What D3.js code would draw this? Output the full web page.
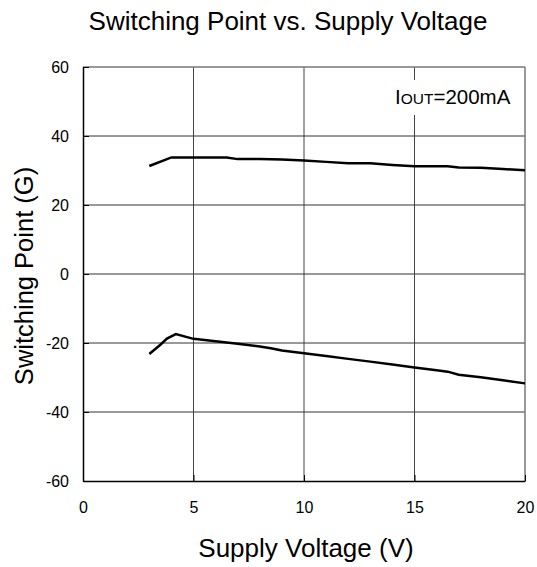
<!DOCTYPE html>
<html>
<head>
<meta charset="utf-8">
<script src="https://cdn.jsdelivr.net/npm/d3@7.9.0/dist/d3.min.js"></script>
<style>
  body { margin: 0; background: #fff; }
  svg { font-family: Arial, "Liberation Sans", sans-serif; }
</style>
</head>
<body>
<div id="viz"></div>
<script>
// Chart data
const upperVolts  = [3, 4, 5, 6, 6.5, 7, 8, 9, 10, 11, 12, 13, 14, 15, 16, 16.5, 17, 18, 19, 20];
const upperPoints = [31.3, 33.8, 33.8, 33.8, 33.8, 33.3, 33.3, 33.2, 32.9, 32.5, 32.1, 32.1, 31.6, 31.2, 31.2, 31.2, 30.9, 30.8, 30.4, 30.1];

const lowerVolts  = [3, 3.5, 3.8, 4.2, 5, 6, 7, 8, 8.5, 9, 10, 11, 12, 13, 14, 15, 16, 16.5, 17, 18, 19, 20];
const lowerPoints = [-23.2, -20.5, -18.7, -17.4, -18.8, -19.5, -20.2, -21.0, -21.5, -22.2, -23.0, -23.8, -24.6, -25.4, -26.2, -27.1, -27.9, -28.3, -29.2, -29.9, -30.8, -31.7];

const xTicks = [0, 5, 10, 15, 20];
const yTicks = [-60, -40, -20, 0, 20, 40, 60];

const W = 537, H = 567;
const margin = {top: 67, right: 12, bottom: 86, left: 83};
const width = W - margin.left - margin.right,
      height = H - margin.top - margin.bottom;

const svg = d3.select('#viz').append('svg')
    .attr('width', W)
    .attr('height', H);

const g = svg.append('g')
    .attr('transform', `translate(${margin.left},${margin.top})`);

const x = d3.scaleLinear().domain([0, 20]).range([0, width]);
const y = d3.scaleLinear().domain([-60, 60]).range([height, 0]);

// grid
g.append('g').selectAll('line')
  .data(xTicks.slice(1, -1))
  .join('line')
  .attr('x1', d => x(d)).attr('x2', d => x(d))
  .attr('y1', 0).attr('y2', height)
  .attr('stroke', '#444').attr('stroke-width', 1);

g.append('g').selectAll('line')
  .data(yTicks.slice(1, -1))
  .join('line')
  .attr('y1', d => y(d)).attr('y2', d => y(d))
  .attr('x1', 0).attr('x2', width)
  .attr('stroke', '#333').attr('stroke-width', 1);

// frame: top and right gray
g.append('line').attr('x1', 0).attr('x2', width).attr('y1', 0).attr('y2', 0)
  .attr('stroke', '#777').attr('stroke-width', 1.5);
g.append('line').attr('x1', width).attr('x2', width).attr('y1', 0).attr('y2', height)
  .attr('stroke', '#777').attr('stroke-width', 1.5);

// axes (plain hyphen for negatives, like the original)
const fmt = d => String(d);
const xAxis = g.append('g')
  .attr('transform', `translate(0,${height})`)
  .call(d3.axisBottom(x).tickValues(xTicks).tickFormat(fmt).tickSizeOuter(0));
const yAxis = g.append('g')
  .call(d3.axisLeft(y).tickValues(yTicks).tickFormat(fmt).tickSizeOuter(0));

[xAxis, yAxis].forEach(a => {
  a.select('.domain').attr('stroke', '#000').attr('stroke-width', 1.5);
  a.selectAll('.tick line').attr('stroke', '#000');
  a.selectAll('.tick text')
    .attr('fill', '#000')
    .style('font-size', '16px')
    .style('font-family', 'Arial, "Liberation Sans", sans-serif');
});
// ticks point into the plot
xAxis.selectAll('.tick line').attr('y2', -6);
yAxis.selectAll('.tick line').attr('x2', 6);
xAxis.selectAll('.tick text').attr('y', 32).attr('dy', 0);
yAxis.selectAll('.tick text').attr('x', -14);

// curves
const line = d3.line().x(d => x(d[0])).y(d => y(d[1]));
g.append('path')
  .datum(d3.zip(upperVolts, upperPoints))
  .attr('fill', 'none').attr('stroke', '#000').attr('stroke-width', 2.5)
  .attr('d', line);
g.append('path')
  .datum(d3.zip(lowerVolts, lowerPoints))
  .attr('fill', 'none').attr('stroke', '#000').attr('stroke-width', 2.5)
  .attr('d', line);

// IOUT label with white backing
g.append('rect')
  .attr('x', 306).attr('y', 13)
  .attr('width', 125).attr('height', 35)
  .attr('fill', '#fff');
const lbl = g.append('text')
  .attr('x', 312).attr('y', 36.5)
  .attr('fill', '#000')
  .style('font-size', '20.5px');
lbl.append('tspan').text('I');
lbl.append('tspan').text('OUT').style('font-size', '15.5px');
lbl.append('tspan').text('=200mA');

// titles
svg.append('text')
  .attr('x', 288).attr('y', 29.5)
  .attr('text-anchor', 'middle')
  .style('font-size', '26px')
  .text('Switching Point vs. Supply Voltage');

svg.append('text')
  .attr('x', 306).attr('y', 557)
  .attr('text-anchor', 'middle')
  .style('font-size', '26px')
  .text('Supply Voltage (V)');

svg.append('text')
  .attr('transform', 'translate(33,276) rotate(-90)')
  .attr('text-anchor', 'middle')
  .style('font-size', '25.5px')
  .text('Switching Point (G)');
</script>
</body>
</html>
